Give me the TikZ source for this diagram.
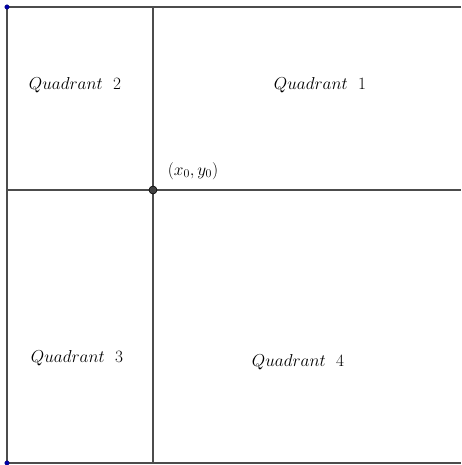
\documentclass[tikz,border=0pt]{standalone}
\usepackage{amsmath}
\begin{document}
\begin{tikzpicture}[x=1pt,y=-1pt,
  gridline/.style={draw=black!70,line width=2.5pt},
  qlabel/.style={font=\fontsize{17}{20}\selectfont,inner sep=0pt},
  corner/.style={circle,fill=blue!70!black,draw=blue!40!black,inner sep=0pt,minimum size=4.5pt},
  pt/.style={circle,fill=black!75,draw=black,line width=0.6pt,inner sep=0pt,minimum size=8pt}]
\useasboundingbox (0,0) rectangle (461,465);
\coordinate (tl) at (7,7);
\coordinate (bl) at (7,463);
\coordinate (tr) at (461,7);
\coordinate (br) at (461,463);
\coordinate (vt) at (153,7);
\coordinate (vb) at (153,463);
\coordinate (hl) at (7,190);
\coordinate (hr) at (461,190);
\draw[gridline] (tr) -- (tl) -- (bl) -- (br);
\draw[gridline] (vt) -- (vb);
\draw[gridline] (hl) -- (hr);
\node[pt] (p0) at (153,190) {};
\node[corner] (c1) at (tl) {};
\node[corner] (c2) at (bl) {};
\node[qlabel] (q2) at (75,85) {$Quadrant\ \ 2$};
\node[qlabel] (q1) at (320,85) {$Quadrant\ \ 1$};
\node[qlabel] (q3) at (77,358) {$Quadrant\ \ 3$};
\node[qlabel] (q4) at (298,362) {$Quadrant\ \ 4$};
\node[qlabel] (lab) at (193,171) {$(x_0,y_0)$};
\end{tikzpicture}
\end{document}
